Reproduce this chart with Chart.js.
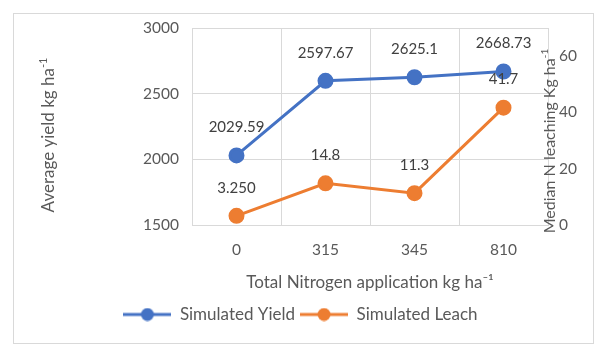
<!DOCTYPE html>
<html>
<head>
<meta charset="utf-8">
<script src="https://cdn.jsdelivr.net/npm/chart.js@4"></script>
<style>
  body { margin: 0; background: #fff; }
  #wrap { width: 601px; height: 351px; }
</style>
</head>
<body>
<div id="wrap"><canvas id="chart" width="601" height="351"></canvas></div>
<script>
// Data
var categories = ['0', '315', '345', '810'];
var yieldValues = [2029.59, 2597.67, 2625.1, 2668.73];
var leachValues = [3.25, 14.8, 11.3, 41.7];
var yieldLabels = ['2029.59', '2597.67', '2625.1', '2668.73'];
var leachLabels = ['3.250', '14.8', '11.3', '41.7'];

var colors = {
  blue: '#4472C4',
  orange: '#ED7D31',
  grid: '#d9d9d9',
  text: '#595959',
  label: '#404040'
};
var fontFamily = 'Lato, "Liberation Sans", sans-serif';

// legend marker: a line with a dot in the middle
function legendMarker(color) {
  var c = document.createElement('canvas');
  c.width = 48; c.height = 14;
  var x = c.getContext('2d');
  x.strokeStyle = color; x.lineWidth = 3;
  x.beginPath(); x.moveTo(0, 7); x.lineTo(48, 7); x.stroke();
  x.fillStyle = color;
  x.beginPath(); x.arc(24, 7, 6.5, 0, Math.PI * 2); x.fill();
  return c;
}

// title with a superscript, rotated
function drawTitle(ctx, main, sup, cx, cy, rot, size) {
  ctx.save();
  ctx.translate(cx, cy);
  ctx.rotate(rot);
  ctx.fillStyle = colors.text;
  ctx.textBaseline = 'middle';
  ctx.font = size + 'px ' + fontFamily;
  var w1 = ctx.measureText(main).width;
  ctx.font = Math.round(size * 0.65) + 'px ' + fontFamily;
  var w2 = ctx.measureText(sup).width;
  var start = -(w1 + w2) / 2;
  ctx.textAlign = 'left';
  ctx.font = size + 'px ' + fontFamily;
  ctx.fillText(main, start, 0);
  ctx.font = Math.round(size * 0.65) + 'px ' + fontFamily;
  ctx.fillText(sup, start + w1, -size * 0.33);
  ctx.restore();
}

var framePlugin = {
  id: 'frame',
  beforeDraw: function(chart) {
    var ctx = chart.ctx;
    ctx.save();
    ctx.fillStyle = '#fff';
    ctx.fillRect(0, 0, chart.width, chart.height);
    ctx.strokeStyle = colors.grid;
    ctx.lineWidth = 1;
    ctx.strokeRect(13.5, 13.5, 580, 330);
    ctx.restore();
  },
  afterDraw: function(chart) {
    var ctx = chart.ctx;
    drawTitle(ctx, 'Average yield kg ha', '-1', 49, 135, -Math.PI / 2, 17);
    drawTitle(ctx, 'Median N leaching Kg ha', '-1', 550, 141, -Math.PI / 2, 16);
  }
};

var valueLabelPlugin = {
  id: 'valueLabels',
  afterDatasetsDraw: function(chart) {
    var ctx = chart.ctx;
    ctx.save();
    ctx.font = '15px ' + fontFamily;
    ctx.fillStyle = colors.label;
    ctx.textAlign = 'center';
    ctx.textBaseline = 'middle';
    chart.data.datasets.forEach(function(ds, i) {
      chart.getDatasetMeta(i).data.forEach(function(pt, j) {
        ctx.fillText(ds.valueLabels[j], pt.x, pt.y - 28);
      });
    });
    ctx.restore();
  }
};

var plainNumber = function(value) { return String(value); };

var ctx = document.getElementById('chart').getContext('2d');
var chart = new Chart(ctx, {
  type: 'line',
  data: {
    labels: categories,
    datasets: [
      {
        label: 'Simulated Yield',
        data: yieldValues,
        valueLabels: yieldLabels,
        yAxisID: 'y',
        borderColor: colors.blue,
        backgroundColor: colors.blue,
        borderWidth: 3,
        pointRadius: 6.5,
        pointHoverRadius: 6.5
      },
      {
        label: 'Simulated Leach',
        data: leachValues,
        valueLabels: leachLabels,
        yAxisID: 'y1',
        borderColor: colors.orange,
        backgroundColor: colors.orange,
        borderWidth: 3,
        pointRadius: 6.5,
        pointHoverRadius: 6.5
      }
    ]
  },
  options: {
    responsive: false,
    animation: false,
    layout: { padding: { left: 0, right: 0, top: 28, bottom: 18 } },
    plugins: {
      tooltip: { enabled: false },
      legend: {
        position: 'bottom',
        labels: {
          usePointStyle: true,
          pointStyleWidth: 48,
          boxHeight: 14,
          padding: 5,
          color: colors.text,
          font: { family: fontFamily, size: 17 },
          generateLabels: function(chart) {
            return chart.data.datasets.map(function(ds, i) {
              return {
                text: ds.label,
                fillStyle: ds.borderColor,
                strokeStyle: ds.borderColor,
                fontColor: colors.text,
                lineWidth: 0,
                pointStyle: legendMarker(ds.borderColor),
                datasetIndex: i
              };
            });
          }
        }
      }
    },
    scales: {
      x: {
        offset: true,
        grid: { color: colors.grid, offset: true, drawTicks: false },
        border: { color: colors.grid },
        ticks: { color: colors.text, padding: 16, font: { family: fontFamily, size: 15.5 } },
        title: {
          display: true,
          text: 'Total Nitrogen application kg ha⁻¹',
          color: colors.text,
          font: { family: fontFamily, size: 17 },
          padding: { top: 0, bottom: 8 }
        },
        afterFit: function(scale) { scale.height = 76; }
      },
      y: {
        position: 'left',
        min: 1500,
        max: 3000,
        grid: { color: colors.grid, drawTicks: false },
        border: { display: false },
        ticks: { stepSize: 500, color: colors.text, padding: 13, callback: plainNumber, font: { family: fontFamily, size: 15.5 } },
        afterFit: function(scale) { scale.width = 192; }
      },
      y1: {
        position: 'right',
        min: 0,
        max: 70,
        grid: { display: false, drawTicks: false },
        border: { color: colors.grid },
        ticks: { stepSize: 20, color: colors.text, padding: 11, callback: plainNumber, font: { family: fontFamily, size: 15.5 } },
        afterBuildTicks: function(scale) {
          scale.ticks = scale.ticks.filter(function(t) { return t.value <= 60; });
        },
        afterFit: function(scale) { scale.width = 53; }
      }
    }
  },
  plugins: [framePlugin, valueLabelPlugin]
});
</script>
</body>
</html>
